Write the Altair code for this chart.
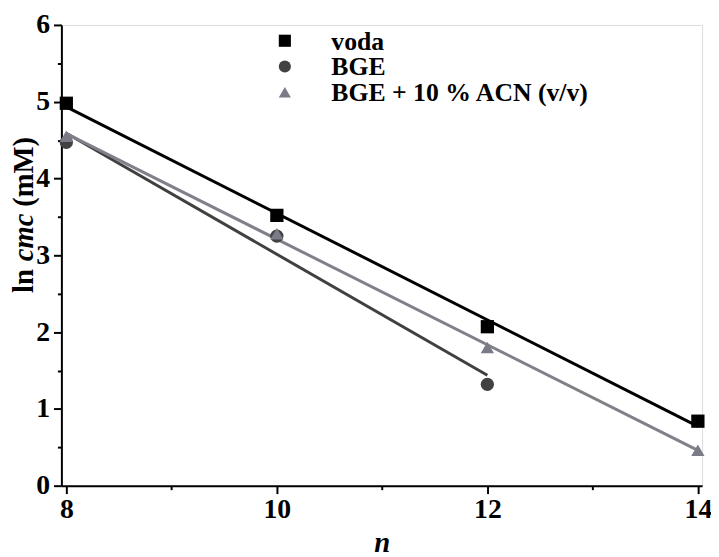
import altair as alt
import pandas as pd

series_names = ["voda", "BGE", "BGE + 10 % ACN (v/v)"]
n_voda = [8, 10, 12, 14]
y_voda = [4.98, 3.52, 2.07, 0.84]
n_bge = [8, 10, 12]
y_bge = [4.47, 3.25, 1.32]
n_acn = [8, 10, 12, 14]
y_acn = [4.55, 3.28, 1.80, 0.46]

x_major = [8, 10, 12, 14]
x_minor = [9, 11, 13]
y_major = [0, 1, 2, 3, 4, 5, 6]
y_minor = [0.5, 1.5, 2.5, 3.5, 4.5, 5.5]

point_colors = ["#000000", "#424242", "#7b7b88"]
line_colors = ["#000000", "#404040", "#808088"]
shapes = ["square", "circle", "triangle-up"]

rows = []
for s, ns, ys in [(series_names[0], n_voda, y_voda),
                  (series_names[1], n_bge, y_bge),
                  (series_names[2], n_acn, y_acn)]:
    for n, y in zip(ns, ys):
        rows.append({"series": s, "n": n, "y": y})
df = pd.DataFrame(rows)
df["order"] = df["series"].map({series_names[0]: 2, series_names[1]: 0, series_names[2]: 1})

FONT = "Liberation Serif"
FS = 28

xscale = alt.Scale(domain=[7.953, 14.04], nice=False, zero=False)
yscale = alt.Scale(domain=[0, 6], nice=False)

major_x_axis = alt.Axis(values=x_major, format="d", title="n", titleFontStyle="italic",
                        titleFont=FONT, titleFontSize=29, titleFontWeight="bold", titleColor="black",
                        titlePadding=6, labelFont=FONT, labelFontSize=FS, labelFontWeight="bold",
                        labelColor="black", labelPadding=2, tickSize=8, tickWidth=2, tickColor="black",
                        labelFlush=True, labelFlushOffset=1,
                        domainWidth=2, domainColor="black", grid=False, orient="bottom")
major_y_axis = alt.Axis(values=y_major, format="d", title=None, labelFont=FONT, labelFontSize=FS,
                        labelFontWeight="bold", labelColor="black", labelPadding=4, tickSize=8,
                        tickWidth=2, tickColor="black", domainWidth=2, domainColor="black",
                        grid=False, orient="left")
minor_x_axis = alt.Axis(values=x_minor, labels=False, title=None, tickSize=4, tickWidth=2,
                        tickColor="black", domain=False, grid=False, orient="bottom")
minor_y_axis = alt.Axis(values=y_minor, labels=False, title=None, tickSize=4, tickWidth=2,
                        tickColor="black", domain=False, grid=False, orient="left")

color_scale = alt.Scale(domain=series_names, range=point_colors)
line_scale = alt.Scale(domain=series_names, range=line_colors)
shape_scale = alt.Scale(domain=series_names, range=shapes)

base = alt.Chart(df)

lines = base.transform_regression("n", "y", groupby=["series"]).mark_line(strokeWidth=3).encode(
    x=alt.X("n:Q", scale=xscale, axis=minor_x_axis),
    y=alt.Y("y:Q", scale=yscale, axis=minor_y_axis),
    color=alt.Color("series:N", scale=line_scale, legend=None),
)

points = base.mark_point(filled=True, size=180, opacity=1).encode(
    x=alt.X("n:Q", scale=xscale, axis=major_x_axis),
    y=alt.Y("y:Q", scale=yscale, axis=major_y_axis),
    color=alt.Color("series:N", scale=color_scale, legend=None),
    shape=alt.Shape("series:N", scale=shape_scale, legend=None),
    order=alt.Order("order:Q"),
)

one = pd.DataFrame({"a": [0]})

# legend (drawn as a small block of symbols and labels)
legend_sym_x = 226
legend_txt_x = 273
legend_rows_y = [16, 42, 68]
legend_parts = []
for name, col, shp, ly in zip(series_names, point_colors, shapes, legend_rows_y):
    legend_parts.append(
        alt.Chart(one).mark_point(filled=True, size=150, opacity=1, shape=shp, color=col)
        .encode(x=alt.value(legend_sym_x), y=alt.value(ly))
    )
    legend_parts.append(
        alt.Chart(one).mark_text(align="left", baseline="middle", font=FONT, fontSize=26,
                                 fontWeight="bold", color="black", dy=1)
        .encode(x=alt.value(legend_txt_x), y=alt.value(ly), text=alt.value(name))
    )

# y-axis title with italic "cmc"
tx = -38
title_parts = []
for txt, ypos, style in [("ln", 271, "normal"), ("cmc", 239, "italic"), ("(mM)", 184, "normal")]:
    title_parts.append(
        alt.Chart(one).mark_text(angle=270, align="left", baseline="middle", font=FONT,
                                 fontSize=29, fontWeight="bold", fontStyle=style, color="black")
        .encode(x=alt.value(tx), y=alt.value(ypos), text=alt.value(txt))
    )

chart = alt.layer(lines, points, *legend_parts, *title_parts).resolve_axis(
    x="independent", y="independent"
).resolve_scale(color="independent").properties(
    width=648, height=466,
    autosize=alt.AutoSizeParams(type="none"),
    padding={"left": 54, "top": 14, "right": 9, "bottom": 69},
).configure_view(stroke=None).configure(background="white")

chart.save("out.html", embed_options={"renderer": "svg", "actions": False})
